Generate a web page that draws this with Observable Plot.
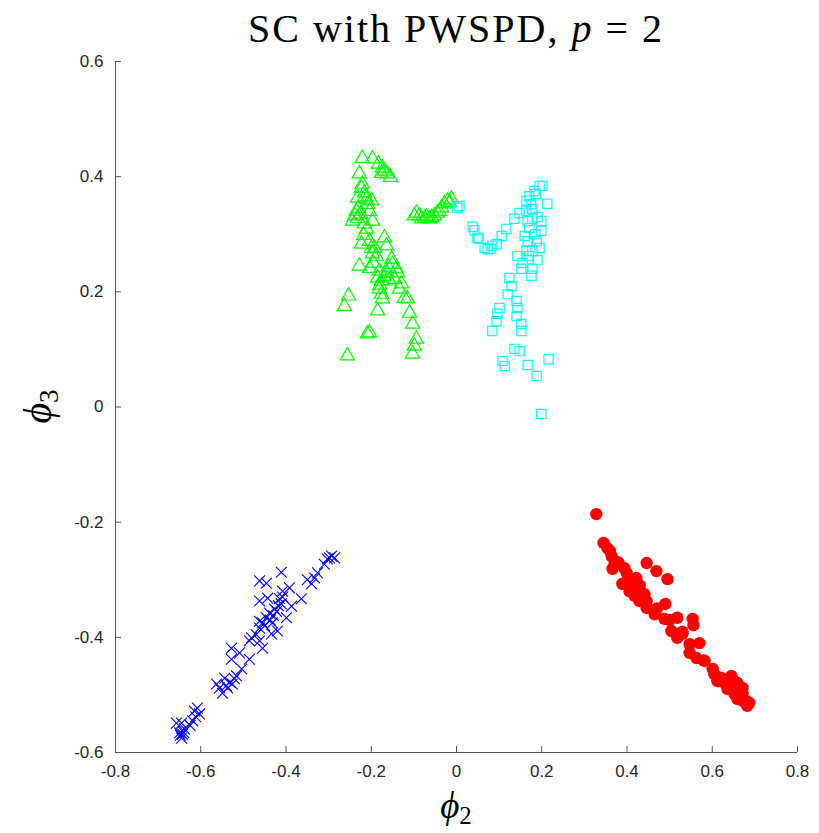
<!DOCTYPE html>
<html>
<head>
<meta charset="utf-8">
<script src="https://cdn.jsdelivr.net/npm/d3@7"></script>
<script src="https://cdn.jsdelivr.net/npm/@observablehq/plot@0.6"></script>
<style>
  html, body { margin: 0; padding: 0; background: #fff; }
  #wrap { width: 819px; height: 833px; position: relative; overflow: hidden; }
  #title { box-sizing: border-box; width: 819px; height: 50px; padding-left: 115px; padding-right: 22px; padding-top: 4px;
    text-align: center; font-family: "Liberation Serif", "DejaVu Serif", serif; font-size: 40px; line-height: 50px;
    letter-spacing: 2px; color: #000; overflow: visible; white-space: nowrap; }
  #title i { font-style: italic; }
</style>
</head>
<body>
<div id="wrap">
  <div id="title">SC with PWSPD, <i>p</i>&nbsp;=&nbsp;2</div>
  <div id="chart"></div>
</div>
<script>
// ---- data ----
const xTicks = [-0.8, -0.6, -0.4, -0.2, 0, 0.2, 0.4, 0.6, 0.8];
const yTicks = [-0.6, -0.4, -0.2, 0, 0.2, 0.4, 0.6];
const xLabel = "ϕ";
const xLabelSub = "2";
const yLabel = "ϕ";
const yLabelSub = "3";

// cluster 1: green triangles
const green = [
  [-0.221,0.432],[-0.197,0.431],[-0.183,0.422],[-0.174,0.415],[-0.169,0.410],[-0.162,0.405],[-0.155,0.399],
  [-0.176,0.406],[-0.228,0.405],[-0.221,0.387],[-0.223,0.380],[-0.216,0.372],[-0.232,0.363],[-0.211,0.361],
  [-0.199,0.358],[-0.235,0.340],[-0.239,0.332],[-0.244,0.323],[-0.232,0.328],[-0.204,0.340],[-0.197,0.323],
  [-0.216,0.318],[-0.211,0.309],[-0.223,0.283],[-0.204,0.288],[-0.192,0.276],[-0.169,0.294],[-0.164,0.280],
  [-0.197,0.266],[-0.188,0.262],[-0.152,0.257],[-0.150,0.248],[-0.228,0.245],[-0.204,0.241],[-0.181,0.236],
  [-0.164,0.233],[-0.141,0.240],[-0.138,0.233],[-0.185,0.224],[-0.176,0.219],[-0.157,0.219],[-0.129,0.214],
  [-0.134,0.205],[-0.181,0.205],[-0.176,0.196],[-0.174,0.188],[-0.122,0.189],[-0.115,0.188],[-0.253,0.193],
  [-0.263,0.175],[-0.185,0.167],[-0.110,0.163],[-0.103,0.144],[-0.204,0.129],[-0.209,0.127],[-0.094,0.118],
  [-0.099,0.106],[-0.103,0.092],[-0.256,0.089],
  [-0.225,0.335],[-0.230,0.345],[-0.215,0.365],[-0.208,0.352],[-0.218,0.298],[-0.195,0.250],[-0.170,0.227],
  [-0.160,0.243],[-0.200,0.275],[-0.145,0.222],[-0.180,0.212],
  [-0.094,0.337],[-0.087,0.332],[-0.075,0.328],[-0.063,0.327],[-0.052,0.332],[-0.045,0.337],[-0.035,0.346],
  [-0.028,0.353],[-0.021,0.358],[-0.012,0.361],[-0.099,0.332],[-0.082,0.327],[-0.070,0.330],[-0.040,0.340],
  [-0.058,0.329],[-0.016,0.355]
];

// cluster 2: cyan squares
const cyan = [
  [0.002,0.346],[0.007,0.349],[0.038,0.313],[0.042,0.307],[0.049,0.294],[0.052,0.292],[0.066,0.276],
  [0.073,0.274],[0.084,0.280],[0.094,0.283],[0.106,0.297],[0.117,0.309],[0.136,0.327],[0.148,0.337],
  [0.164,0.340],[0.178,0.344],[0.164,0.358],[0.171,0.366],[0.183,0.375],[0.195,0.384],[0.202,0.384],
  [0.213,0.353],[0.178,0.327],[0.167,0.323],[0.171,0.311],[0.199,0.323],[0.199,0.306],[0.160,0.297],
  [0.167,0.288],[0.188,0.288],[0.195,0.276],[0.178,0.271],[0.164,0.271],[0.143,0.262],[0.155,0.250],
  [0.152,0.240],[0.178,0.240],[0.176,0.228],[0.124,0.224],[0.129,0.210],[0.120,0.196],[0.141,0.184],
  [0.143,0.172],[0.101,0.172],[0.096,0.162],[0.094,0.149],[0.084,0.132],[0.141,0.158],[0.152,0.144],
  [0.152,0.132],[0.136,0.101],[0.148,0.097],[0.108,0.080],[0.113,0.071],[0.167,0.073],[0.188,0.054],
  [0.216,0.083],[0.199,-0.012],
  [0.186,0.370],[0.175,0.352],[0.190,0.330],[0.185,0.300],[0.170,0.262],[0.080,0.275],[0.190,0.255]
];

// cluster 3: blue crosses
const blue = [
  [-0.293,-0.259],[-0.303,-0.264],[-0.286,-0.262],[-0.310,-0.273],[-0.326,-0.288],[-0.340,-0.307],
  [-0.333,-0.297],[-0.411,-0.287],[-0.462,-0.302],[-0.446,-0.306],[-0.392,-0.314],[-0.408,-0.320],
  [-0.443,-0.332],[-0.462,-0.337],[-0.415,-0.333],[-0.411,-0.342],[-0.364,-0.333],[-0.387,-0.346],
  [-0.427,-0.351],[-0.439,-0.358],[-0.446,-0.366],[-0.462,-0.372],[-0.455,-0.375],[-0.432,-0.375],
  [-0.399,-0.366],[-0.462,-0.384],[-0.420,-0.389],[-0.434,-0.394],[-0.481,-0.401],[-0.462,-0.406],
  [-0.455,-0.419],[-0.486,-0.406],[-0.528,-0.419],[-0.509,-0.427],[-0.486,-0.438],[-0.528,-0.438],
  [-0.504,-0.455],[-0.516,-0.467],[-0.521,-0.472],[-0.544,-0.471],[-0.563,-0.481],[-0.556,-0.488],
  [-0.549,-0.497],[-0.537,-0.488],[-0.526,-0.481],[-0.608,-0.523],[-0.603,-0.533],[-0.619,-0.545],
  [-0.657,-0.549],[-0.645,-0.549],[-0.638,-0.559],[-0.650,-0.566],[-0.643,-0.568],[-0.645,-0.575],
  [-0.615,-0.528],
  [-0.408,-0.330],[-0.418,-0.345],[-0.422,-0.355],[-0.430,-0.362],[-0.437,-0.370],[-0.450,-0.380],
  [-0.470,-0.395],[-0.532,-0.478],[-0.540,-0.484],[-0.612,-0.538],[-0.625,-0.553],[-0.640,-0.565],
  [-0.648,-0.570],[-0.298,-0.262],[-0.350,-0.300]
];

// cluster 4: red filled circles
const red = [
  [0.328,-0.186],[0.345,-0.236],[0.354,-0.245],[0.364,-0.259],[0.371,-0.271],[0.366,-0.281],[0.394,-0.280],
  [0.399,-0.288],[0.389,-0.307],[0.422,-0.297],[0.422,-0.307],[0.406,-0.320],[0.418,-0.328],[0.441,-0.325],
  [0.429,-0.337],[0.446,-0.337],[0.446,-0.349],[0.465,-0.360],[0.488,-0.368],[0.446,-0.271],[0.469,-0.285],
  [0.495,-0.299],[0.490,-0.342],[0.518,-0.366],[0.554,-0.368],[0.556,-0.379],[0.504,-0.389],[0.518,-0.401],
  [0.530,-0.394],[0.547,-0.412],[0.570,-0.410],[0.547,-0.427],[0.563,-0.436],[0.582,-0.441],[0.601,-0.455],
  [0.605,-0.464],[0.612,-0.476],[0.645,-0.467],[0.640,-0.479],[0.659,-0.479],[0.636,-0.490],[0.652,-0.498],
  [0.671,-0.498],[0.659,-0.507],[0.680,-0.511],[0.687,-0.514],[0.682,-0.519],[0.671,-0.488],
  [0.360,-0.250],[0.380,-0.270],[0.410,-0.300],[0.430,-0.310],[0.470,-0.350],[0.500,-0.370],[0.530,-0.390],
  [0.580,-0.440],[0.620,-0.470],[0.630,-0.480],[0.660,-0.500],[0.670,-0.510]
];

const fmt = d => d === 0 ? "0" : d.toFixed(1);
const asObj = arr => arr.map(([x, y]) => ({x, y}));

const axisColor = "#262626";
const plot = Plot.plot({
  width: 819,
  height: 783,
  marginTop: 11,
  marginLeft: 115,
  marginRight: 22,
  marginBottom: 81,
  style: {fontFamily: "'Liberation Sans', Arial, sans-serif", fontSize: "17px", color: axisColor, background: "white", overflow: "visible"},
  x: {domain: [-0.8, 0.8]},
  y: {domain: [-0.6, 0.6]},
  marks: [
    Plot.ruleY([-0.6], {stroke: "#555", strokeWidth: 1}),
    Plot.ruleX([-0.8], {stroke: "#555", strokeWidth: 1}),
    Plot.axisX(xTicks, {tickSize: -6, tickPadding: 18, tickFormat: fmt, label: null, stroke: "#555", fontSize: 17}),
    Plot.axisY(yTicks, {tickSize: -6, tickPadding: 18, tickFormat: fmt, label: null, stroke: "#555", fontSize: 17}),
    Plot.dot(asObj(green), {x: "x", y: "y", symbol: "triangle", r: 5.3, stroke: "#00ff00", strokeWidth: 1.2, fill: "none"}),
    Plot.dot(asObj(cyan), {x: "x", y: "y", symbol: "square", r: 5.2, stroke: "#00ffff", strokeWidth: 1.2, fill: "none"}),
    Plot.dot(asObj(blue), {x: "x", y: "y", symbol: "times", r: 5, stroke: "#0000ff", strokeWidth: 1.1}),
    Plot.dot(asObj(red), {x: "x", y: "y", r: 6.2, fill: "#ff0000", stroke: "none"})
  ]
});
document.getElementById("chart").appendChild(plot);

// axis labels (phi with subscripts) placed via the plot's scales
const sx = plot.scale("x"), sy = plot.scale("y");
const svg = d3.select(plot);
const labelFont = "'Liberation Serif', 'DejaVu Serif', serif";
const xl = svg.append("text")
  .attr("x", sx.apply(0)).attr("y", 768)
  .attr("text-anchor", "middle")
  .attr("font-family", labelFont).attr("font-size", 37).attr("fill", "#000");
xl.append("tspan").attr("font-style", "italic").text(xLabel);
xl.append("tspan").attr("font-size", 25).attr("dy", 6).text(xLabelSub);

const yl = svg.append("text")
  .attr("transform", `translate(51,${sy.apply(0)}) rotate(-90)`)
  .attr("text-anchor", "middle")
  .attr("font-family", labelFont).attr("font-size", 40).attr("fill", "#000");
yl.append("tspan").attr("font-style", "italic").text(yLabel);
yl.append("tspan").attr("font-size", 27).attr("dy", 7).text(yLabelSub);
</script>
</body>
</html>
